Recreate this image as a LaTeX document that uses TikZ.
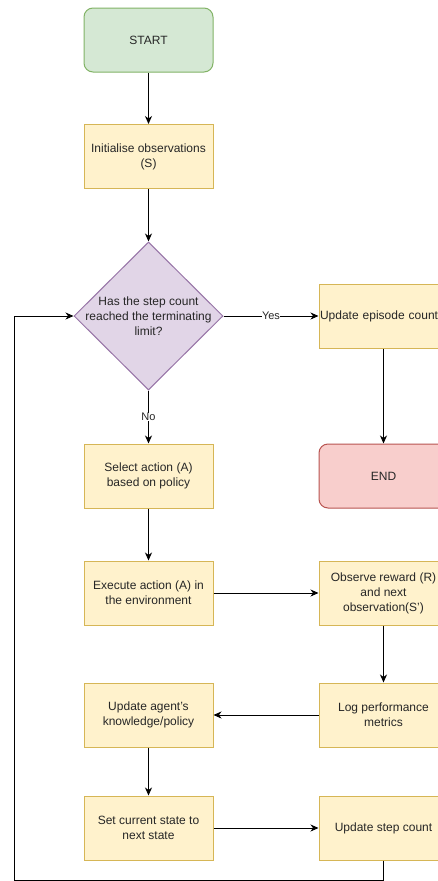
\documentclass[tikz,border=0pt]{standalone}
\usepackage{fontspec}
\setmainfont{Liberation Sans}
\usetikzlibrary{shapes.geometric,arrows.meta}
\definecolor{gfill}{HTML}{D5E8D4}\definecolor{gline}{HTML}{82B366}
\definecolor{yfill}{HTML}{FFF2CC}\definecolor{yline}{HTML}{D6B656}
\definecolor{pfill}{HTML}{E1D5E7}\definecolor{pline}{HTML}{9673A6}
\definecolor{rfill}{HTML}{F8CECC}\definecolor{rline}{HTML}{B85450}
\begin{document}
\begin{tikzpicture}[x=1pt,y=-1pt,
  every node/.style={font=\fontsize{12}{15}\selectfont, text=black!85},
  box/.style={draw=yline, fill=yfill, line width=1pt, minimum width=129pt, minimum height=64pt, inner sep=0pt, align=center},
  startbox/.style={box, draw=gline, fill=gfill, rounded corners=9pt},
  endbox/.style={box, draw=rline, fill=rfill, rounded corners=9pt},
  decision/.style={diamond, draw=pline, fill=pfill, line width=1pt, minimum width=149pt, minimum height=148pt, inner sep=0pt},
  conn/.style={draw=black, line width=0.9pt, -{Stealth[length=8pt,width=7pt,inset=2.5pt]}},
  lbl/.style={font=\fontsize{11}{13}\selectfont, fill=white, inner sep=0.5pt}
]
\useasboundingbox (0,0) rectangle (438,881);
\clip (0,0) rectangle (438,881);
\fill[white] (0,0) rectangle (438,881);

\node[startbox] (start) at (148.5,40) {START};
\node[box] (init) at (148.5,156.5) {Initialise observations\\(S)};
\node[decision] (dec) at (148.5,316) {};
\node[align=center, inner sep=0pt] (dectext) at (148.5,316) {Has the step count\\reached the terminating\\limit?};
\node[box, text width=127pt, align=left] (uep) at (383.5,316) {Update episode count};
\node[endbox] (end) at (383.5,476) {END};
\node[box] (sel) at (148.5,476) {Select action (A)\\based on policy};
\node[box] (exe) at (148.5,593) {Execute action (A) in\\the environment};
\node[box] (obs) at (383.5,593) {Observe reward (R)\\and next\\observation(S')};
\node[box] (log) at (383.5,715) {Log performance\\metrics};
\node[box] (upd) at (148.5,715) {Update agent's\\knowledge/policy};
\node[box] (set) at (148.5,828) {Set current state to\\next state};
\node[box] (usc) at (383.5,828) {Update step count};

\coordinate (c1) at (383.5,880);
\coordinate (c2) at (14,880);
\coordinate (c3) at (14,316);

\draw[conn] (start) -- (init);
\draw[conn] (init) -- (dec);
\draw[conn] (dec.east) -- node[lbl, pos=0.5] (yes) {Yes} (uep.west);
\draw[conn] (dec.south) -- node[lbl, pos=0.5] (no) {No} (sel.north);
\draw[conn] (uep) -- (end);
\draw[conn] (sel) -- (exe);
\draw[conn] (exe) -- (obs);
\draw[conn] (obs) -- (log);
\draw[conn] (log) -- (upd);
\draw[conn] (upd) -- (set);
\draw[conn] (set) -- (usc);
\draw[conn] (usc.south) -- (c1) -- (c2) -- (c3) -- (dec.west);
\end{tikzpicture}
\end{document}
